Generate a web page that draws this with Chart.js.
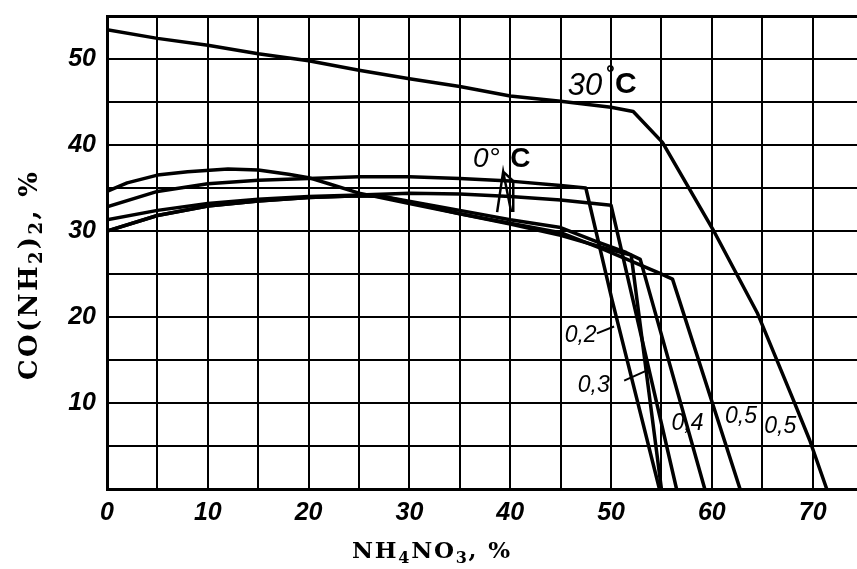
<!DOCTYPE html>
<html>
<head>
<meta charset="utf-8">
<script src="https://cdn.jsdelivr.net/npm/chart.js@4.4.1/dist/chart.umd.min.js"></script>
<style>
  html, body { margin: 0; padding: 0; background: #fff; }
  #chart { display: block; }
</style>
</head>
<body>
<canvas id="chart" width="857" height="569"></canvas>
<script>
// NH4NO3 (x, %) vs CO(NH2)2 (y, %) solubility curves

// 30 °C
const x30 = [0, 5, 10, 15, 20, 25, 30, 35, 40, 45, 50, 52.2, 55.1, 60.1, 64.5, 68.0, 69.7, 71.4];
const y30 = [53.4, 52.4, 51.6, 50.6, 49.8, 48.7, 47.7, 46.8, 45.7, 45.1, 44.4, 43.9, 40.3, 30.2, 20.5, 10.6, 5.7, 0];

// 0 °C, additive 0,2
const x02 = [0, 5, 10, 15, 20, 25, 30, 35, 40, 45, 47.5, 50.1, 54.8];
const y02 = [32.8, 34.6, 35.5, 35.9, 36.1, 36.3, 36.3, 36.1, 35.8, 35.3, 35.0, 22.0, 0];

// 0 °C, additive 0,3
const x03 = [0, 5, 10, 15, 20, 25, 30, 35, 40, 45, 50.0, 56.5];
const y03 = [31.3, 32.4, 33.2, 33.7, 34.0, 34.2, 34.4, 34.3, 34.0, 33.6, 33.0, 0];

// 0 °C, upper arched curve
const xArc = [0, 2, 5, 8, 12, 15, 18, 20, 22, 25, 30, 35, 40, 45, 50, 52.0, 55.0];
const yArc = [34.6, 35.6, 36.5, 36.9, 37.2, 37.1, 36.6, 36.2, 35.5, 34.4, 33.2, 32.0, 30.8, 29.5, 27.8, 27.2, 0];

// 0 °C, additive 0,4
const x04 = [0, 5, 10, 15, 20, 25, 27.5, 35, 40, 45, 48.5, 51.5, 52.9, 59.3];
const y04 = [30.0, 31.8, 32.9, 33.5, 33.9, 34.1, 34.0, 32.4, 31.3, 30.4, 28.8, 27.5, 26.7, 0];

// 0 °C, additive 0,5
const x05 = [0, 5, 10, 15, 20, 25, 27.5, 35, 40, 45, 49.2, 54.8, 56.1, 62.8];
const y05 = [30.0, 31.8, 32.9, 33.5, 33.9, 34.1, 34.0, 32.0, 30.9, 29.8, 27.9, 25.1, 24.4, 0];

// axis ranges / tick step
const xMax = 74.4;
const yMax = 55;
const gridStep = 5;
const labelStep = 10;

// curve labels (data coordinates of the text start) and their leader lines
const curveLabels = ['0,2', '0,3', '0,4', '0,5', '0,5'];
const curveLabelX = [45.4, 46.7, 56.0, 61.3, 65.2];
const curveLabelY = [17.1, 11.3, 6.9, 7.7, 6.5];
const leaders = [
  [[48.6, 18.1], [50.3, 18.9]],
  [[51.3, 12.6], [53.8, 13.9]]
];

// axis titles, split into normal / subscript parts
const xTitle = [['NH', 0], ['4', 1], ['NO', 0], ['3', 1], [', %', 0]];
const yTitle = [['CO(NH', 0], ['2', 1], [')', 0], ['2', 1], [', %', 0]];

const pts = (xs, ys) => xs.map((x, i) => ({ x: x, y: ys[i] }));

const curve = (xs, ys) => ({
  data: pts(xs, ys),
  borderColor: '#000',
  borderWidth: 3.5,
  pointRadius: 0,
  tension: 0,
  borderJoinStyle: 'round',
  borderCapStyle: 'round'
});

// draw a formula with subscripts, spread to a given width
function drawFormula(ctx, parts, x, y, width, size, subSize, subDrop) {
  const mainFont = 'bold ' + size + 'px "DejaVu Serif"';
  const subFont = 'bold ' + subSize + 'px "DejaVu Serif"';
  const chars = [];
  parts.forEach(p => {
    for (const ch of p[0]) chars.push({ ch: ch, sub: p[1] });
  });
  let natural = 0;
  chars.forEach(c => {
    ctx.font = c.sub ? subFont : mainFont;
    c.w = ctx.measureText(c.ch).width;
    natural += c.w;
  });
  const gap = Math.max((width - natural) / (chars.length - 1), 0);
  let cx = x;
  ctx.textAlign = 'left';
  chars.forEach(c => {
    ctx.font = c.sub ? subFont : mainFont;
    ctx.fillText(c.ch, cx, y + (c.sub ? subDrop : 0));
    cx += c.w + gap;
  });
}

const annotations = {
  id: 'annotations',
  afterDatasetsDraw(chart) {
    const ctx = chart.ctx;
    const sx = chart.scales.x, sy = chart.scales.y;
    const px = v => sx.getPixelForValue(v);
    const py = v => sy.getPixelForValue(v);
    ctx.save();
    ctx.fillStyle = '#000';
    ctx.strokeStyle = '#000';
    ctx.textBaseline = 'alphabetic';
    ctx.textAlign = 'left';

    // 30°C
    ctx.font = 'italic 31px "Liberation Sans"';
    ctx.fillText('30', px(45.7), py(45.8));
    ctx.font = 'bold 22px "Liberation Sans"';
    ctx.fillText('°', px(49.5), py(47.4));
    ctx.font = 'bold 30px "Liberation Sans"';
    ctx.fillText('C', px(50.4), py(46.0));

    // 0°C
    ctx.font = 'italic 28px "Liberation Sans"';
    ctx.fillText('0°', px(36.3), py(37.4));
    ctx.font = 'bold 28px "Liberation Sans"';
    ctx.fillText('C', px(40.0), py(37.4));

    // arrow under 0°C
    ctx.lineWidth = 2.5;
    ctx.beginPath();
    ctx.moveTo(px(38.7), py(32.2));
    ctx.lineTo(px(39.3), py(36.9));
    ctx.lineTo(px(40.1), py(32.2));
    ctx.moveTo(px(39.3), py(36.9));
    ctx.lineTo(px(40.3), py(35.8));
    ctx.lineTo(px(40.3), py(32.2));
    ctx.stroke();

    // curve labels
    ctx.font = 'italic 23px "Liberation Sans"';
    curveLabels.forEach((t, i) => ctx.fillText(t, px(curveLabelX[i]), py(curveLabelY[i])));
    ctx.lineWidth = 2;
    leaders.forEach(l => {
      ctx.beginPath();
      ctx.moveTo(px(l[0][0]), py(l[0][1]));
      ctx.lineTo(px(l[1][0]), py(l[1][1]));
      ctx.stroke();
    });

    // axis titles
    drawFormula(ctx, xTitle, 352, 558, 158, 23, 16, 5);
    ctx.translate(37, 380);
    ctx.rotate(-Math.PI / 2);
    drawFormula(ctx, yTitle, 0, 0, 208, 26, 18, 5);
    ctx.restore();
  }
};

new Chart(document.getElementById('chart'), {
  type: 'line',
  data: {
    datasets: [
      curve(x30, y30),
      curve(x02, y02),
      curve(x03, y03),
      curve(xArc, yArc),
      curve(x04, y04),
      curve(x05, y05)
    ]
  },
  options: {
    responsive: false,
    animation: false,
    devicePixelRatio: 1,
    layout: { padding: { top: 16, right: 0, bottom: 0, left: 0 } },
    plugins: { legend: { display: false }, tooltip: { enabled: false } },
    scales: {
      x: {
        type: 'linear',
        min: 0,
        max: xMax,
        afterFit: s => { s.height = 80; s.paddingLeft = 0; s.paddingRight = 0; },
        border: { display: true, color: '#000', width: 3 },
        grid: { color: '#000', lineWidth: 2, drawTicks: false },
        ticks: {
          stepSize: gridStep,
          includeBounds: false,
          autoSkip: false,
          maxRotation: 0,
          color: '#000',
          padding: 9,
          font: { family: '"Liberation Sans"', size: 25, style: 'italic', weight: 'bold' },
          callback: v => (v % labelStep === 0 ? String(v) : '')
        }
      },
      y: {
        type: 'linear',
        min: 0,
        max: yMax,
        afterFit: s => { s.width = 107; s.paddingTop = 0; s.paddingBottom = 0; },
        border: { display: true, color: '#000', width: 3 },
        grid: {
          color: '#000',
          drawTicks: false,
          lineWidth: c => (c.tick && c.tick.value === yMax ? 3 : 2)
        },
        ticks: {
          stepSize: gridStep,
          autoSkip: false,
          color: '#000',
          padding: 11,
          font: { family: '"Liberation Sans"', size: 25, style: 'italic', weight: 'bold' },
          callback: v => (v % labelStep === 0 && v !== 0 ? String(v) : '')
        }
      }
    }
  },
  plugins: [annotations]
});
</script>
</body>
</html>
